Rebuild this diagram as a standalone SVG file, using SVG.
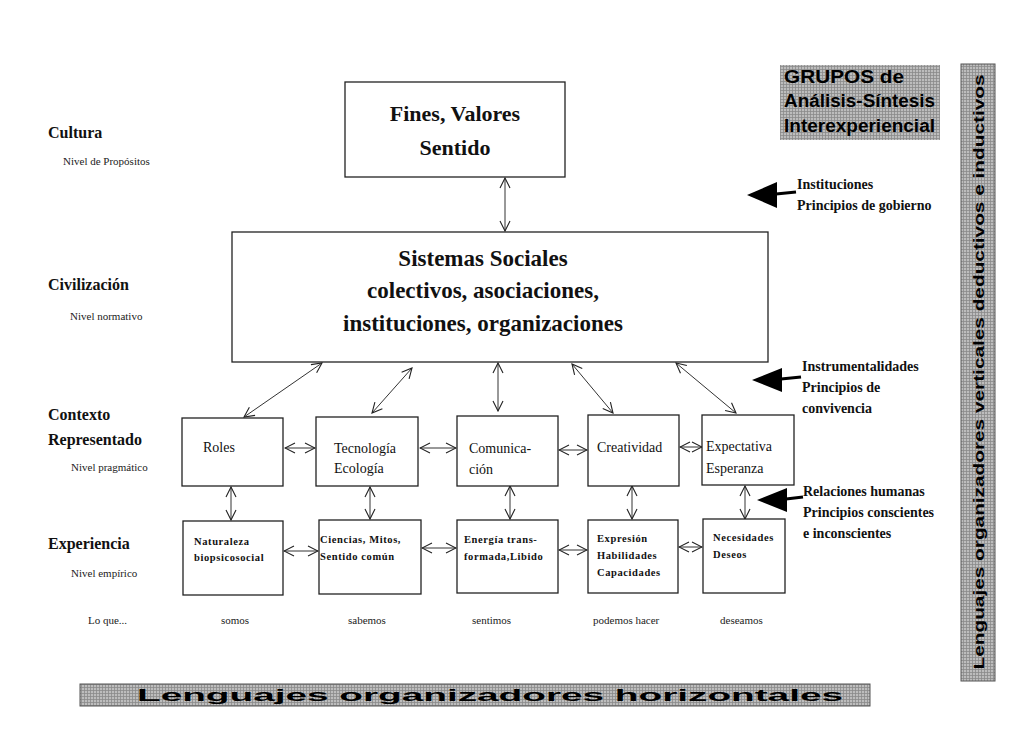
<svg xmlns="http://www.w3.org/2000/svg" width="1024" height="748" viewBox="0 0 1024 748">
<defs>
<marker id="oa" viewBox="0 0 12 12" refX="11" refY="6" markerWidth="12" markerHeight="12" markerUnits="userSpaceOnUse" orient="auto-start-reverse">
<path d="M1,1 L11,6 L1,11" fill="none" stroke="#222" stroke-width="1.1"/>
</marker>
<pattern id="hatch" width="3" height="3" patternUnits="userSpaceOnUse">
<rect width="3" height="3" fill="#bdbdbd"/>
<path d="M0,0.5 H3 M0.5,0 V3" stroke="#8a8a8a" stroke-width="0.8"/>
</pattern>
<style>
.box{fill:#fff;stroke:#222;stroke-width:1.3}
.con{fill:none;stroke:#333;stroke-width:1;marker-start:url(#oa);marker-end:url(#oa)}
.big{font-family:"Liberation Serif",serif;font-weight:bold;fill:#111;text-anchor:middle}
.lvl{font-family:"Liberation Serif",serif;font-weight:bold;font-size:16px;fill:#111}
.sub{font-family:"Liberation Serif",serif;font-size:11px;fill:#222}
.r1{font-family:"Liberation Serif",serif;font-size:14px;fill:#111}
.r2{font-family:"Liberation Serif",serif;font-weight:bold;font-size:10.5px;fill:#111;letter-spacing:0.6px}
.rt{font-family:"Liberation Serif",serif;font-weight:bold;font-size:14px;fill:#111}
.gr{font-family:"Liberation Sans",sans-serif;font-weight:bold;fill:#000}
.head{fill:#000}
.shaft{stroke:#000;stroke-width:3}
</style>
</defs>
<rect width="1024" height="748" fill="#fff"/>

<g id="levels">
<text class="lvl" x="48" y="138">Cultura</text>
<text class="sub" x="63" y="165">Nivel de Propósitos</text>
<text class="lvl" x="48" y="290">Civilización</text>
<text class="sub" x="70" y="320">Nivel normativo</text>
<text class="lvl" x="48" y="420">Contexto</text>
<text class="lvl" x="48" y="445">Representado</text>
<text class="sub" x="71" y="471">Nivel pragmático</text>
<text class="lvl" x="48" y="549">Experiencia</text>
<text class="sub" x="71" y="577">Nivel empírico</text>
</g>

<g id="loque">
<text class="sub" x="88" y="624">Lo que...</text>
<text class="sub" x="221" y="624">somos</text>
<text class="sub" x="348" y="624">sabemos</text>
<text class="sub" x="472" y="624">sentimos</text>
<text class="sub" x="593" y="624">podemos hacer</text>
<text class="sub" x="720" y="624">deseamos</text>
</g>

<g id="connectors">
<line class="con" x1="505" y1="178" x2="505" y2="231"/>
<line class="con" x1="322" y1="363" x2="244" y2="417"/>
<line class="con" x1="412" y1="368" x2="372" y2="413"/>
<line class="con" x1="498" y1="363" x2="498" y2="411"/>
<line class="con" x1="572" y1="364" x2="613" y2="413"/>
<line class="con" x1="676" y1="363" x2="736" y2="413"/>
<line class="con" x1="285" y1="448" x2="315" y2="448"/>
<line class="con" x1="420" y1="448" x2="456" y2="448"/>
<line class="con" x1="559" y1="450" x2="587" y2="450"/>
<line class="con" x1="680" y1="447" x2="702" y2="447"/>
<line class="con" x1="231" y1="487" x2="231" y2="520"/>
<line class="con" x1="370" y1="487" x2="370" y2="519"/>
<line class="con" x1="510" y1="486" x2="510" y2="519"/>
<line class="con" x1="632" y1="486" x2="632" y2="519"/>
<line class="con" x1="745" y1="486" x2="745" y2="519"/>
<line class="con" x1="284" y1="551" x2="318" y2="551"/>
<line class="con" x1="422" y1="548" x2="456" y2="548"/>
<line class="con" x1="559" y1="550" x2="587" y2="550"/>
<line class="con" x1="679" y1="547" x2="702" y2="547"/>
</g>

<g id="n-fines">
<rect class="box" x="345" y="82" width="220" height="95"/>
<text class="big" x="455" y="121" font-size="22">Fines, Valores</text>
<text class="big" x="455" y="155" font-size="22">Sentido</text>
</g>

<g id="n-sistemas">
<rect class="box" x="232" y="232" width="536" height="130"/>
<text class="big" x="483" y="266" font-size="23">Sistemas Sociales</text>
<text class="big" x="483" y="298" font-size="23">colectivos, asociaciones,</text>
<text class="big" x="483" y="331" font-size="23">instituciones, organizaciones</text>
</g>

<g id="n-roles"><rect class="box" x="182" y="418" width="101" height="68"/><text class="r1" x="203" y="452">Roles</text></g>
<g id="n-tecnologia"><rect class="box" x="316" y="417" width="102" height="69"/><text class="r1" x="334" y="453">Tecnología</text><text class="r1" x="334" y="473">Ecología</text></g>
<g id="n-comunicacion"><rect class="box" x="457" y="416" width="101" height="70"/><text class="r1" x="469" y="453">Comunica-</text><text class="r1" x="469" y="474">ción</text></g>
<g id="n-creatividad"><rect class="box" x="588" y="415" width="91" height="71"/><text class="r1" x="597" y="452">Creatividad</text></g>
<g id="n-expectativa"><rect class="box" x="702" y="415" width="92" height="70"/><text class="r1" x="706" y="451">Expectativa</text><text class="r1" x="706" y="473">Esperanza</text></g>

<g id="n-naturaleza"><rect class="box" x="183" y="521" width="100" height="74"/><text class="r2" x="194" y="545">Naturaleza</text><text class="r2" x="194" y="561">biopsicosocial</text></g>
<g id="n-ciencias"><rect class="box" x="319" y="520" width="102" height="74"/><text class="r2" x="320" y="543">Ciencias, Mitos,</text><text class="r2" x="320" y="560">Sentido común</text></g>
<g id="n-energia"><rect class="box" x="457" y="520" width="101" height="73"/><text class="r2" x="464" y="543">Energía trans-</text><text class="r2" x="464" y="560">formada,Libido</text></g>
<g id="n-expresion"><rect class="box" x="588" y="520" width="90" height="73"/><text class="r2" x="597" y="542">Expresión</text><text class="r2" x="597" y="559">Habilidades</text><text class="r2" x="597" y="576">Capacidades</text></g>
<g id="n-necesidades"><rect class="box" x="703" y="519" width="82" height="74"/><text class="r2" x="713" y="541">Necesidades</text><text class="r2" x="713" y="558">Deseos</text></g>

<g id="right-notes">
<polygon class="head" points="747,195 777,182 777,208"/>
<line class="shaft" x1="776" y1="194" x2="796" y2="192"/>
<text class="rt" x="797" y="189">Instituciones</text>
<text class="rt" x="797" y="210">Principios de gobierno</text>
<polygon class="head" points="752,380 782,368 782,392"/>
<line class="shaft" x1="781" y1="379" x2="801" y2="377"/>
<text class="rt" x="802" y="371">Instrumentalidades</text>
<text class="rt" x="802" y="392">Principios de</text>
<text class="rt" x="802" y="413">convivencia</text>
<polygon class="head" points="757,500 787,488 787,512"/>
<line class="shaft" x1="786" y1="499" x2="803" y2="497"/>
<text class="rt" x="803" y="496">Relaciones humanas</text>
<text class="rt" x="803" y="517">Principios conscientes</text>
<text class="rt" x="803" y="538">e inconscientes</text>
</g>

<g id="grupos">
<rect x="780" y="65" width="160" height="75" fill="url(#hatch)"/>
<text class="gr" x="784" y="83" font-size="18" textLength="120" lengthAdjust="spacingAndGlyphs">GRUPOS  de</text>
<text class="gr" x="784" y="107" font-size="18" textLength="151" lengthAdjust="spacingAndGlyphs">Análisis-Síntesis</text>
<text class="gr" x="784" y="132" font-size="18" textLength="151" lengthAdjust="spacingAndGlyphs">Interexperiencial</text>
</g>

<g id="vertical-bar">
<rect x="961" y="64" width="34" height="617" fill="url(#hatch)" stroke="#555" stroke-width="1"/>
<text class="gr" transform="translate(984,372) rotate(-90)" text-anchor="middle" font-size="15" textLength="595" lengthAdjust="spacingAndGlyphs">Lenguajes organizadores verticales deductivos e inductivos</text>
</g>

<g id="horizontal-bar">
<rect x="80" y="684" width="790" height="22" fill="url(#hatch)" stroke="#555" stroke-width="1"/>
<text class="gr" x="137" y="701" font-size="17" textLength="706" lengthAdjust="spacingAndGlyphs">Lenguajes organizadores horizontales</text>
</g>
</svg>
